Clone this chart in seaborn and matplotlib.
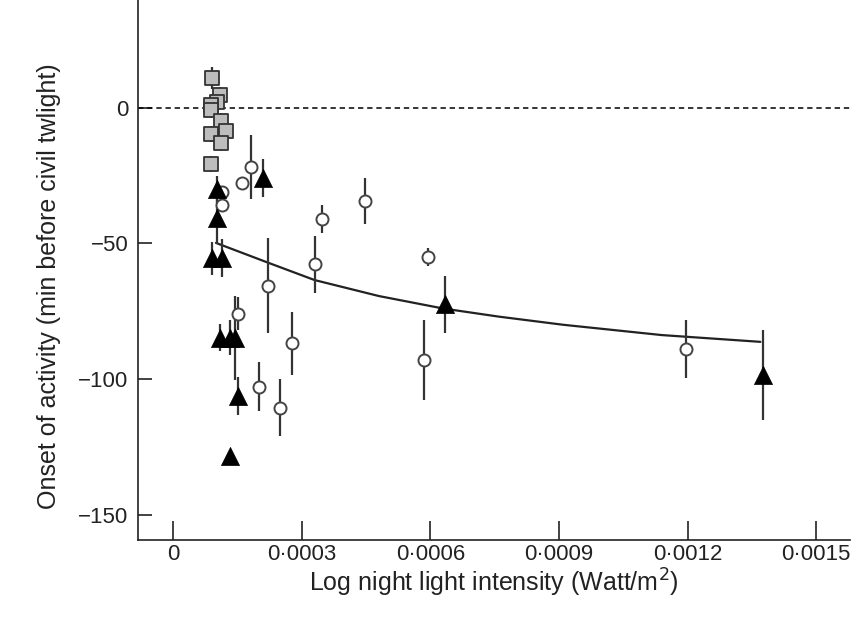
import numpy as np
import pandas as pd
import matplotlib
matplotlib.use("Agg")
import matplotlib.pyplot as plt
import seaborn as sns

# grey squares (near-zero light sites)
sq_x = [0.0000903, 0.000110, 0.000102, 0.0000886, 0.0000886, 0.000112,
        0.000123, 0.0000886, 0.000112, 0.0000886]
sq_y = [11.0, 4.8, 2.3, 1.1, -0.7, -5.0, -8.5, -9.6, -13.0, -20.7]
sq_err = [4, 3, 3, 3, 3, 3, 3, 3, 3, 3]

# open circles
ci_x = [0.000182, 0.000160, 0.000114, 0.000114, 0.000221, 0.000152, 0.000278,
        0.000201, 0.000250, 0.000448, 0.000348, 0.000330, 0.000594, 0.000585,
        0.001197]
ci_y = [-21.8, -27.8, -31.0, -36.0, -65.6, -75.9, -86.8, -102.9, -110.6,
        -34.3, -41.0, -57.7, -55.0, -93.0, -89.0]
ci_err = [11.8, 2, 2, 2, 17.5, 6, 11.6, 9, 10.5, 8.6, 5.2, 10.5, 3.4, 14.6, 10.8]

# black triangles
tr_x = [0.000102, 0.000102, 0.0000900, 0.000114, 0.000110, 0.000133,
        0.000145, 0.000151, 0.000133, 0.000209, 0.000634, 0.001377]
tr_y = [-30.0, -40.7, -55.5, -55.5, -84.8, -84.8, -84.8, -106.3, -128.5,
        -26.0, -72.4, -98.5]
tr_err = [5, 9.5, 6, 7, 5, 6.5, 15.4, 7, 0, 7, 10.5, 16.5]

# fitted curve
fit_x = [0.0001, 0.00022, 0.00033, 0.00048, 0.00063, 0.00076, 0.00091,
         0.00114, 0.00137]
fit_y = [-49.8, -57.0, -63.5, -69.4, -74.0, -77.0, -80.0, -83.8, -86.3]

xticks = [0, 0.0003, 0.0006, 0.0009, 0.0012, 0.0015]
xtick_labels = ["0", "0·0003", "0·0006", "0·0009", "0·0012", "0·0015"]
yticks = [0, -50, -100, -150]

sns.set_style("ticks")
plt.rcParams["font.family"] = ["Liberation Sans", "DejaVu Sans"]
plt.rcParams["axes.unicode_minus"] = True

fig = plt.figure(figsize=(8.59, 6.2), dpi=100)
ax = fig.add_axes([0.1607, 0.129, 0.8288, 0.871])

ax.axhline(0, color="black", lw=1.1, ls=(0, (3.5, 2.5)), zorder=1)
sns.lineplot(x=fit_x, y=fit_y, ax=ax, color="#222222", lw=1.6, zorder=2)

ebar = dict(fmt="none", ecolor="#333333", elinewidth=1.6, capsize=0, zorder=3)
ax.errorbar(sq_x, sq_y, yerr=sq_err, **ebar)
ax.errorbar(ci_x, ci_y, yerr=ci_err, **ebar)
ax.errorbar(tr_x, tr_y, yerr=tr_err, **ebar)

sns.scatterplot(x=sq_x, y=sq_y, ax=ax, marker="s", s=90, color="#bdbdbd",
                edgecolor="#333333", linewidth=1.3, zorder=4)
sns.scatterplot(x=ci_x, y=ci_y, ax=ax, marker="o", s=75, color="white",
                edgecolor="#444444", linewidth=1.4, zorder=5)
sns.scatterplot(x=tr_x, y=tr_y, ax=ax, marker="^", s=170, color="black",
                edgecolor="black", linewidth=0.5, zorder=6)

ax.set_xlim(-0.0000817, 0.001579)
ax.set_ylim(-159.4, 39.8)
ax.set_xticks(xticks)
ax.set_xticklabels(xtick_labels)
ax.set_yticks(yticks)

ax.tick_params(axis="x", direction="in", length=14, width=1.2, pad=3,
               labelsize=16, colors="#222222")
ax.tick_params(axis="y", direction="in", length=10, width=1.2, pad=7,
               labelsize=16, colors="#222222")
for side in ["top", "right"]:
    ax.spines[side].set_visible(False)
for side in ["left", "bottom"]:
    ax.spines[side].set_linewidth(1.2)
    ax.spines[side].set_color("#222222")

ax.set_xlabel("Log night light intensity (Watt/m$^2$)", fontsize=18,
              color="#222222")
ax.set_ylabel("Onset of activity (min before civil twlight)", fontsize=18,
              color="#222222")
ax.xaxis.set_label_coords(0.5, -0.05)
ax.yaxis.set_label_coords(-0.108, 0.47)

fig.savefig("out.png", dpi=100)
